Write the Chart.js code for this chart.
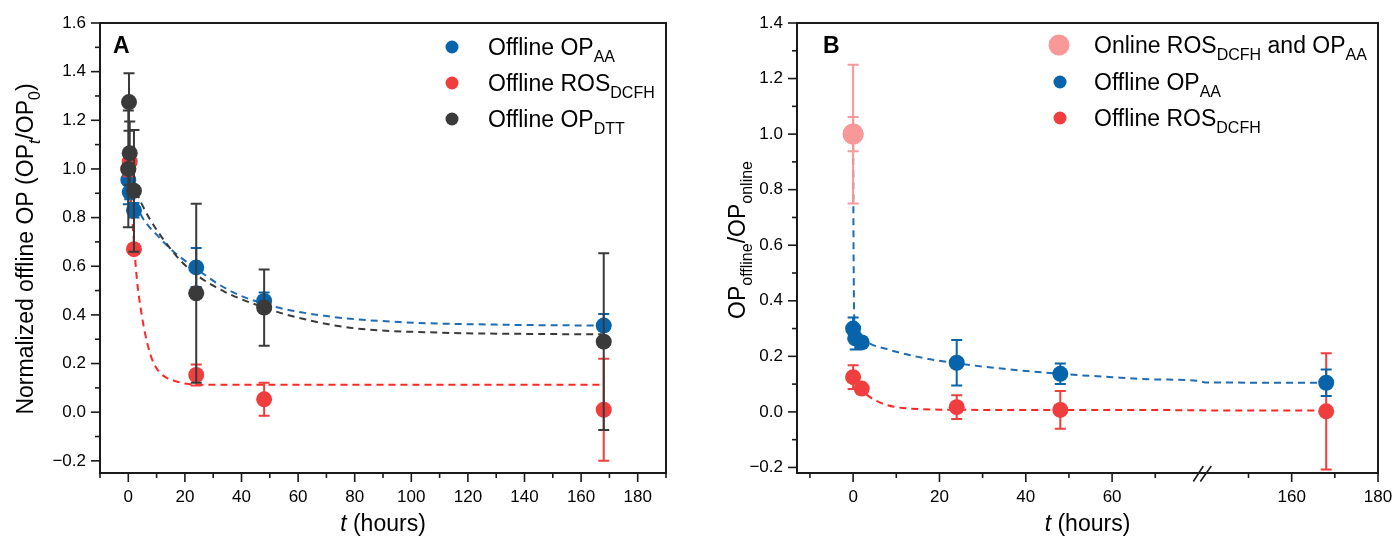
<!DOCTYPE html>
<html><head><meta charset="utf-8">
<script src="https://cdn.jsdelivr.net/npm/chart.js@4.4.1/dist/chart.umd.min.js"></script>
<style>
html,body{margin:0;padding:0;background:#fff;}
#wrap{display:flex;width:1396px;height:544px;}
.box{position:relative;width:698px;height:544px;}
canvas{display:block;}
</style></head><body>
<div id="wrap"><div class="box"><canvas id="cA" width="698" height="544"></canvas></div><div class="box"><canvas id="cB" width="698" height="544"></canvas></div></div>
<script>
const FONT = "'Liberation Sans', Arial, sans-serif";

// ---------------- Panel A data ----------------
const tAA_A  = [0, 0.5, 2, 24, 48, 168];
const vAA_A  = [0.955, 0.905, 0.83, 0.595, 0.457, 0.356];
const eAA_A  = [0.10, 0.03, 0.03, 0.08, 0.035, 0.048];
const tROS_A = [0, 0.5, 2, 24, 48, 168];
const vROS_A = [1.0, 1.03, 0.67, 0.153, 0.053, 0.01];
const eROS_A = [0.03, 0.03, 0.02, 0.043, 0.068, 0.21];
const tDTT_A = [0, 0.25, 0.5, 2, 24, 48, 168];
const vDTT_A = [1.0, 1.275, 1.065, 0.91, 0.489, 0.43, 0.29];
const eDTT_A = [0.24, 0.118, 0.13, 0.25, 0.368, 0.157, 0.363];
// fitted curves
const fitAA_A_t  = [0, 2, 5, 10, 16, 24, 35, 48, 70, 97, 130, 168];
const fitAA_A_v  = [0.955, 0.88, 0.80, 0.73, 0.66, 0.59, 0.505, 0.445, 0.395, 0.37, 0.36, 0.356];
const fitDTT_A_t = [0, 2, 5, 10, 20, 30, 48, 65, 80, 110, 140, 168];
const fitDTT_A_v = [1.0, 0.93, 0.85, 0.75, 0.605, 0.52, 0.43, 0.375, 0.345, 0.327, 0.322, 0.32];
const fitROS_A_t = [0, 1, 2, 3, 4.6, 6, 8, 10, 13, 16, 20, 24, 168];
const fitROS_A_v = [1.02, 0.86, 0.70, 0.55, 0.41, 0.32, 0.23, 0.18, 0.145, 0.13, 0.118, 0.113, 0.113];
// axis ticks A
const xMajorA = [0, 20, 40, 60, 80, 100, 120, 140, 160, 180];
const xMinorA = [-10, 10, 30, 50, 70, 90, 110, 130, 150, 170, 190];
const yMajorA = [-0.2, 0, 0.2, 0.4, 0.6, 0.8, 1.0, 1.2, 1.4, 1.6];
const yMinorA = [-0.1, 0.1, 0.3, 0.5, 0.7, 0.9, 1.1, 1.3, 1.5];

// ---------------- Panel B data ----------------
const tOn_B  = [0, 0];
const vOn_B  = [1.0, 1.0];
const eOn_B  = [0.25, 0.062];
const tAA_B  = [0, 0.5, 2, 24, 48, 168];
const vAA_B  = [0.30, 0.265, 0.25, 0.177, 0.137, 0.105];
const eAA_B  = [0.04, 0.04, 0.02, 0.082, 0.037, 0.048];
const tROS_B = [0, 2, 24, 48, 168];
const vROS_B = [0.125, 0.084, 0.017, 0.007, 0.002];
const eROS_B = [0.043, 0.01, 0.043, 0.068, 0.209];
const fitAA_B_t  = [0, 0.1, 0.3, 1, 2, 4, 8, 15, 24, 35, 48, 60, 70, 80, 140, 168];
const fitAA_B_v  = [1.0, 0.6, 0.32, 0.28, 0.265, 0.245, 0.225, 0.198, 0.175, 0.155, 0.137, 0.125, 0.117, 0.112, 0.106, 0.105];
const fitROS_B_t = [0, 1, 2, 3, 4, 6, 8, 10, 13, 20, 40, 80, 140, 168];
const fitROS_B_v = [0.135, 0.105, 0.085, 0.065, 0.052, 0.035, 0.024, 0.017, 0.012, 0.008, 0.007, 0.006, 0.005, 0.005];
// axis ticks B (broken x axis: 80 .. 140 removed)
const xMajorB = [0, 20, 40, 60, 160, 180];
const xMinorB = [-10, 10, 30, 50, 70, 150, 170];
const yMajorB = [-0.2, 0, 0.2, 0.4, 0.6, 0.8, 1.0, 1.2, 1.4];
const yMinorB = [-0.1, 0.1, 0.3, 0.5, 0.7, 0.9, 1.1, 1.3];
const BREAK_AT = 80, BREAK_SHIFT = 58.4;
const toAxisB = t => (t <= BREAK_AT ? t : t - BREAK_SHIFT);

// ---------------- colours ----------------
const C_BLUE = '#0864AA', C_RED = '#F03E3E', C_DARK = '#3A3A3A', C_PINK = '#F89898';
const C_BLUE_L = '#1E6CB2', C_RED_L = '#FF2626', C_DARK_L = '#3A3A3A';

const pts = (ts, vs, f) => ts.map((t, i) => ({ x: f ? f(t) : t, y: vs[i] }));
const fmtY = v => (v < 0 ? '\u2212' + Math.abs(v).toFixed(1) : v.toFixed(1));

function drawRich(ctx, parts, x, y, size, subSize, align) {
  const fontOf = st => (st.indexOf('i') >= 0 && st !== 'sub' ? 'italic ' : '') + (st.indexOf('sub') === 0 ? subSize : size) + 'px ' + FONT;
  let w = 0;
  parts.forEach(p => { ctx.font = fontOf(p[1]); w += ctx.measureText(p[0]).width; });
  let cx = align === 'center' ? x - w / 2 : x;
  ctx.textAlign = 'left'; ctx.textBaseline = 'alphabetic';
  parts.forEach(p => {
    ctx.font = fontOf(p[1]);
    const dy = p[1].indexOf('sub') === 0 ? size * 0.3 : 0;
    ctx.fillText(p[0], cx, y + dy);
    cx += ctx.measureText(p[0]).width;
  });
}

const errorBars = {
  id: 'errorBars',
  beforeDatasetDraw(chart, args) {
    const ds = chart.data.datasets[args.index];
    if (!ds.errors) return;
    const ctx = chart.ctx, ys = chart.scales.y;
    ctx.save();
    ctx.strokeStyle = ds.errColor || ds.backgroundColor;
    ctx.lineWidth = 2;
    args.meta.data.forEach((el, i) => {
      const e = ds.errors[i]; if (!e) return;
      const v = ds.data[i].y;
      const y1 = ys.getPixelForValue(v + e), y2 = ys.getPixelForValue(v - e);
      const x = el.x, c = 5.5;
      ctx.beginPath();
      ctx.moveTo(x, y1); ctx.lineTo(x, y2);
      ctx.moveTo(x - c, y1); ctx.lineTo(x + c, y1);
      ctx.moveTo(x - c, y2); ctx.lineTo(x + c, y2);
      ctx.stroke();
    });
    ctx.restore();
  }
};

const decor = {
  id: 'decor',
  afterDraw(chart, args, o) {
    const { ctx, chartArea: a, scales: { x, y } } = chart;
    ctx.save();
    ctx.strokeStyle = '#1a1a1a'; ctx.lineWidth = 1.6;
    const L = (x1, y1, x2, y2) => { ctx.beginPath(); ctx.moveTo(x1, y1); ctx.lineTo(x2, y2); ctx.stroke(); };
    o.xMajor.forEach(v => { const p = x.getPixelForValue(v); L(p, a.bottom, p, a.bottom + 9); });
    o.xMinor.forEach(v => { const p = x.getPixelForValue(v); L(p, a.bottom, p, a.bottom + 5); });
    o.yMajor.forEach(v => { const p = y.getPixelForValue(v); L(a.left - 9, p, a.left, p); });
    o.yMinor.forEach(v => { const p = y.getPixelForValue(v); L(a.left - 5, p, a.left, p); });
    ctx.lineWidth = 2;
    ctx.strokeRect(a.left, a.top, a.right - a.left, a.bottom - a.top);
    if (o.breakAt !== undefined) {
      const p = x.getPixelForValue(o.breakAt);
      ctx.lineWidth = 1.6;
      L(p - 9, a.bottom + 8.5, p + 1, a.bottom - 7);
      L(p - 2, a.bottom + 8.5, p + 9, a.bottom - 7);
    }
    ctx.fillStyle = '#000';
    // panel letter
    ctx.font = 'bold 23px ' + FONT; ctx.textAlign = 'left'; ctx.textBaseline = 'alphabetic';
    ctx.fillText(o.letter, o.letterX, a.top + 30);
    // x title
    drawRich(ctx, [['t', 'i'], [' (hours)', 'n']], (a.left + a.right) / 2, 531, 23, 16, 'center');
    // y title
    ctx.save();
    ctx.translate(o.yTitleX, o.yTitleY);
    ctx.rotate(-Math.PI / 2);
    drawRich(ctx, o.yTitle, 0, 0, 23, 16, 'center');
    ctx.restore();
    // legend
    o.legend.forEach(it => {
      ctx.fillStyle = it.color;
      ctx.beginPath(); ctx.arc(it.mx, it.y, it.r, 0, Math.PI * 2); ctx.fill();
      ctx.fillStyle = '#000';
      drawRich(ctx, it.parts, o.legendTextX, it.y + 8, 23, 16, 'left');
    });
    ctx.restore();
  }
};

function scatterSet(label, data, color, errs, order, r) {
  return { label, data, backgroundColor: color, borderColor: color, borderWidth: 0,
    pointRadius: r || 8, pointHoverRadius: r || 8, showLine: false, errors: errs, order };
}
function fitSet(label, data, color, order) {
  return { label, data, borderColor: color, backgroundColor: color, borderWidth: 2,
    borderDash: [7, 5], pointRadius: 0, showLine: true, cubicInterpolationMode: 'monotone', order };
}

function scales(xmin, xmax, ymin, ymax, xTicks, xLabels, yTicks, yWidth) {
  return {
    x: { type: 'linear', min: xmin, max: xmax,
      grid: { display: false, drawTicks: false }, border: { display: false },
      afterBuildTicks: s => { s.ticks = xTicks.map(v => ({ value: v })); },
      afterFit: s => { s.height = 71; s.paddingLeft = 0; s.paddingRight = 0; },
      ticks: { autoSkip: false, maxRotation: 0, padding: 14, color: '#000', font: { family: FONT, size: 17 },
        callback: (v, i) => String(xLabels[i]) } },
    y: { type: 'linear', min: ymin, max: ymax,
      grid: { display: false, drawTicks: false }, border: { display: false },
      afterBuildTicks: s => { s.ticks = yTicks.map(v => ({ value: v })); },
      afterFit: s => { s.width = yWidth; s.paddingTop = 0; s.paddingBottom = 0; },
      ticks: { autoSkip: false, padding: 14, color: '#000', font: { family: FONT, size: 17 },
        callback: v => fmtY(v) } }
  };
}

const common = { responsive: false, animation: false, events: [],
  plugins: { legend: { display: false }, tooltip: { enabled: false } } };

// ---------------- Chart A ----------------
new Chart(document.getElementById('cA'), {
  type: 'scatter',
  data: { datasets: [
    fitSet('fit AA', pts(fitAA_A_t, fitAA_A_v), C_BLUE_L, 12),
    fitSet('fit DTT', pts(fitDTT_A_t, fitDTT_A_v), C_DARK_L, 11),
    fitSet('fit ROS', pts(fitROS_A_t, fitROS_A_v), C_RED_L, 10),
    scatterSet('Offline OP_AA', pts(tAA_A, vAA_A), C_BLUE, eAA_A, 3),
    scatterSet('Offline ROS_DCFH', pts(tROS_A, vROS_A), C_RED, eROS_A, 2),
    scatterSet('Offline OP_DTT', pts(tDTT_A, vDTT_A), C_DARK, eDTT_A, 1)
  ] },
  options: Object.assign({}, common, {
    layout: { padding: { left: 0, top: 23, right: 32, bottom: 0 } },
    scales: scales(-10, 190, -0.25, 1.6, xMajorA, xMajorA, yMajorA, 100),
    plugins: Object.assign({}, common.plugins, {
      decor: { xMajor: xMajorA, xMinor: xMinorA, yMajor: yMajorA, yMinor: yMinorA,
        letter: 'A', letterX: 113, yTitleX: 33, yTitleY: 249,
        yTitle: [['Normalized offline OP (OP', 'n'], ['t', 'subi'], ['/OP', 'n'], ['0', 'sub'], [')', 'n']],
        legendTextX: 488,
        legend: [
          { mx: 452, y: 47, r: 6.5, color: C_BLUE, parts: [['Offline OP', 'n'], ['AA', 'sub']] },
          { mx: 452, y: 83, r: 6.5, color: C_RED, parts: [['Offline ROS', 'n'], ['DCFH', 'sub']] },
          { mx: 452, y: 119, r: 6.5, color: C_DARK, parts: [['Offline OP', 'n'], ['DTT', 'sub']] }
        ] }
    })
  }),
  plugins: [errorBars, decor]
});

// ---------------- Chart B ----------------
new Chart(document.getElementById('cB'), {
  type: 'scatter',
  data: { datasets: [
    fitSet('fit AA', pts(fitAA_B_t, fitAA_B_v, toAxisB), C_BLUE_L, 12),
    fitSet('fit ROS', pts(fitROS_B_t, fitROS_B_v, toAxisB), C_RED_L, 11),
    scatterSet('Offline ROS_DCFH', pts(tROS_B, vROS_B, toAxisB), C_RED, eROS_B, 3),
    scatterSet('Offline OP_AA', pts(tAA_B, vAA_B, toAxisB), C_BLUE, eAA_B, 2),
    scatterSet('Online ROS_DCFH and OP_AA', pts(tOn_B, vOn_B, toAxisB), C_PINK, eOn_B, 1, 10.5)
  ] },
  options: Object.assign({}, common, {
    layout: { padding: { left: 0, top: 23, right: 18, bottom: 0 } },
    scales: scales(-13, toAxisB(180), -0.22, 1.4, xMajorB.map(toAxisB), xMajorB, yMajorB, 99),
    plugins: Object.assign({}, common.plugins, {
      decor: { xMajor: xMajorB.map(toAxisB), xMinor: xMinorB.map(toAxisB), yMajor: yMajorB, yMinor: yMinorB,
        breakAt: BREAK_AT + 0.9,
        letter: 'B', letterX: 125, yTitleX: 47, yTitleY: 240,
        yTitle: [['OP', 'n'], ['offline', 'sub'], ['/OP', 'n'], ['online', 'sub']],
        legendTextX: 396,
        legend: [
          { mx: 361, y: 45, r: 10.5, color: C_PINK, parts: [['Online ROS', 'n'], ['DCFH', 'sub'], [' and OP', 'n'], ['AA', 'sub']] },
          { mx: 362, y: 82, r: 6.5, color: C_BLUE, parts: [['Offline OP', 'n'], ['AA', 'sub']] },
          { mx: 362, y: 118, r: 6.5, color: C_RED, parts: [['Offline ROS', 'n'], ['DCFH', 'sub']] }
        ] }
    })
  }),
  plugins: [errorBars, decor]
});
</script>
</body></html>
